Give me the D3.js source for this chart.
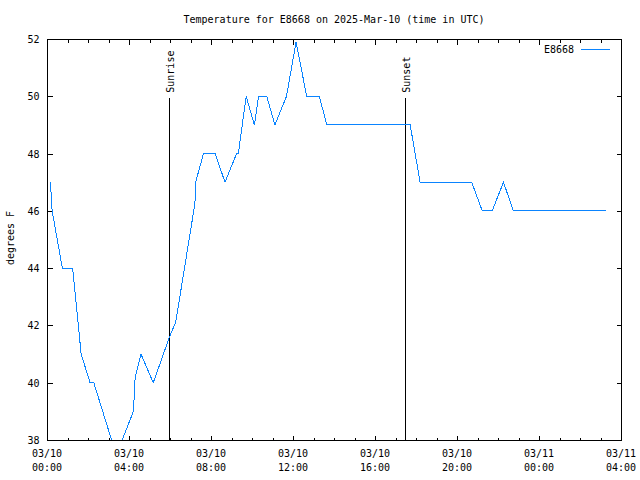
<!DOCTYPE html>
<html><head><meta charset="utf-8">
<script src="https://cdn.jsdelivr.net/npm/d3@7"></script>
<style>
body{margin:0;background:#fff;}
text{font-family:"DejaVu Sans Mono",monospace;font-size:10px;fill:#000;}
</style></head>
<body><svg id="c" width="640" height="480"></svg>
<script>
const title = "Temperature for E8668 on 2025-Mar-10 (time in UTC)";
const seriesName = "E8668";
const times = ["2025-03-10T00:10Z","2025-03-10T00:15Z","2025-03-10T00:45Z","2025-03-10T01:15Z","2025-03-10T01:40Z","2025-03-10T02:06Z","2025-03-10T02:17Z","2025-03-10T03:09Z","2025-03-10T03:23Z","2025-03-10T03:40Z","2025-03-10T04:13Z","2025-03-10T04:18Z","2025-03-10T04:35Z","2025-03-10T05:11Z","2025-03-10T05:57Z","2025-03-10T06:17Z","2025-03-10T07:13Z","2025-03-10T07:15Z","2025-03-10T07:38Z","2025-03-10T08:12Z","2025-03-10T08:41Z","2025-03-10T09:15Z","2025-03-10T09:20Z","2025-03-10T09:43Z","2025-03-10T10:07Z","2025-03-10T10:19Z","2025-03-10T10:43Z","2025-03-10T11:07Z","2025-03-10T11:41Z","2025-03-10T12:09Z","2025-03-10T12:40Z","2025-03-10T13:17Z","2025-03-10T13:39Z","2025-03-10T17:43Z","2025-03-10T18:12Z","2025-03-10T20:43Z","2025-03-10T21:14Z","2025-03-10T21:43Z","2025-03-10T22:16Z","2025-03-10T22:45Z","2025-03-11T03:15Z"];
const temps = [47,46,44,44,41,40,40,38,37.5,38,39,40.2,41,40,41.55,42.13,46.26,47,48,48,47,48,48,50,49,50,50,49,50,51.9,50,50,49,49,47,47,46,46,47,46,46];
const yTicks = [38,40,42,44,46,48,50,52];
const xDomain = ["2025-03-10T00:00Z","2025-03-11T04:00Z"];
const sunEvents = [{label:"Sunrise", time:"2025-03-10T05:58Z"},{label:"Sunset", time:"2025-03-10T17:27Z"}];

const svg = d3.select("#c");
const L=47, R=621, T=39, B=440;
const x = d3.scaleUtc().domain(xDomain.map(d=>new Date(d))).range([L,R]);
const y = d3.scaleLinear().domain([38,52]).range([B,T]);
const data = times.map((t,i)=>({t:new Date(t), v:temps[i]}));

svg.append("defs").append("clipPath").attr("id","clip")
  .append("rect").attr("x",L).attr("y",T).attr("width",R-L).attr("height",B-T);

const major = x.ticks(d3.utcHour.every(4));
const minor = x.ticks(d3.utcHour.every(1)).filter(d=>d.getUTCHours()%4!==0);

function axisG(gen, ty){
  const g = svg.append("g").attr("transform",`translate(0,${ty})`).call(gen);
  g.select(".domain").remove();
  g.selectAll("line").attr("stroke","#000").attr("shape-rendering","crispEdges");
  g.selectAll("text").remove();
  return g;
}
axisG(d3.axisBottom(x).tickValues(major).tickSize(-5), B+0.5);
axisG(d3.axisBottom(x).tickValues(minor).tickSize(-3), B+0.5);
axisG(d3.axisTop(x).tickValues(major).tickSize(-5), T+0.5);
axisG(d3.axisTop(x).tickValues(minor).tickSize(-3), T+0.5);

function yAxisG(gen, tx){
  const g = svg.append("g").attr("transform",`translate(${tx},0)`).call(gen);
  g.select(".domain").remove();
  g.selectAll("line").attr("stroke","#000").attr("shape-rendering","crispEdges");
  return g;
}
const yl = yAxisG(d3.axisLeft(y).tickValues(yTicks).tickSize(-5).tickPadding(8), L+0.5);
yl.selectAll("text").attr("font-family","DejaVu Sans Mono").attr("font-size","10px").attr("dy","0.35em");
const yr = yAxisG(d3.axisRight(y).tickValues(yTicks).tickSize(-5), R+0.5);
yr.selectAll("text").remove();

// x labels
const fmtD = d3.utcFormat("%m/%d"), fmtT = d3.utcFormat("%H:%M");
major.forEach(d=>{
  svg.append("text").attr("x",x(d)).attr("y",457).attr("text-anchor","middle").text(fmtD(d));
  svg.append("text").attr("x",x(d)).attr("y",471).attr("text-anchor","middle").text(fmtT(d));
});

// frame
svg.append("rect").attr("x",L+0.5).attr("y",T+0.5).attr("width",R-L).attr("height",B-T)
  .attr("fill","none").attr("stroke","#000").attr("shape-rendering","crispEdges");

// sun lines
sunEvents.forEach(s=>{
  const sx = Math.round(x(new Date(s.time)))+0.5;
  svg.append("line").attr("x1",sx).attr("x2",sx).attr("y1",y(49.95)).attr("y2",B)
    .attr("stroke","#000").attr("shape-rendering","crispEdges");
  svg.append("text").attr("transform",`translate(${sx+4},${y(49.95)-5}) rotate(-90)`)
    .attr("text-anchor","start").text(s.label);
});

// data line
svg.append("path").datum(data).attr("clip-path","url(#clip)")
  .attr("d", d3.line().x(d=>x(d.t)).y(d=>y(d.v)))
  .attr("fill","none").attr("stroke","#0a84ff").attr("stroke-width",1)
  .attr("shape-rendering","crispEdges");

// title
svg.append("text").attr("x",334).attr("y",23).attr("text-anchor","middle").text(title);
// y label
svg.append("text").attr("transform","translate(14,238) rotate(-90)").attr("text-anchor","middle").text("degrees F");
// legend
svg.append("text").attr("x",574).attr("y",53).attr("text-anchor","end").text(seriesName);
svg.append("line").attr("x1",581).attr("x2",610).attr("y1",49.5).attr("y2",49.5)
  .attr("stroke","#0a84ff").attr("shape-rendering","crispEdges");
</script></body></html>
